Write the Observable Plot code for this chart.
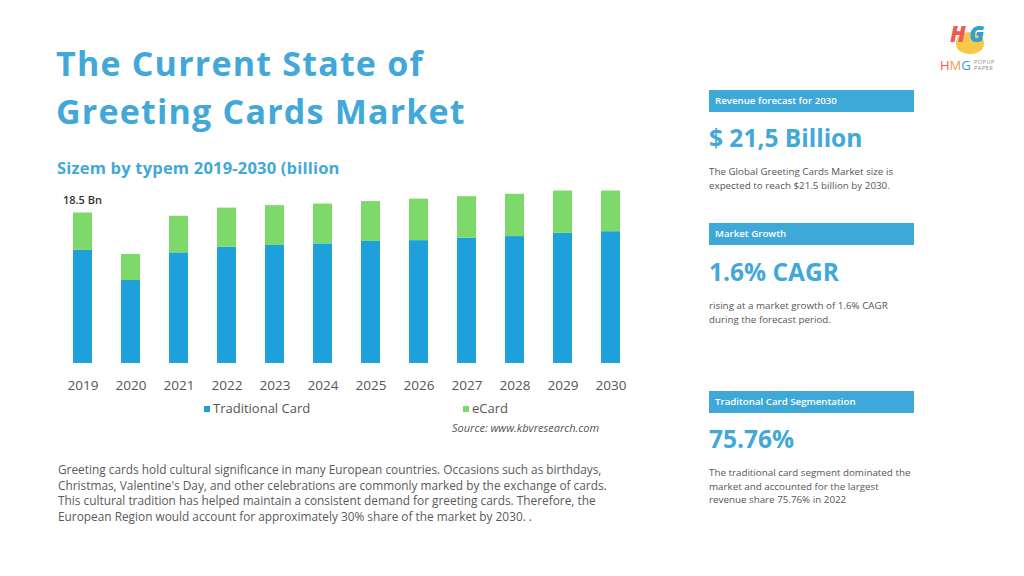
<!DOCTYPE html>
<html><head><meta charset="utf-8">
<script src="https://cdn.jsdelivr.net/npm/d3@7"></script>
<script src="https://cdn.jsdelivr.net/npm/@observablehq/plot@0.6"></script>
<style>
body{margin:0;width:1024px;height:576px;background:#fff;position:relative;overflow:hidden;font-family:"Open Sans",sans-serif;}
.abs{position:absolute;white-space:nowrap;}
.title{left:56px;top:39px;font-size:34px;line-height:48px;font-weight:700;color:#42a8d9;letter-spacing:1.2px;}
.sub{left:57px;top:157px;font-size:16.5px;line-height:22px;font-weight:700;color:#42a8d9;letter-spacing:0.2px;}
.para{left:58px;top:462px;font-size:11.85px;line-height:15.5px;color:#5a5a5a;font-weight:400;}
.box{left:709px;width:205px;height:22px;background:#3ea8d8;color:#fff;font-size:9.7px;font-weight:600;line-height:22px;padding-left:6px;box-sizing:border-box;}
.big{left:709px;font-weight:700;color:#42a8d9;font-size:24.5px;line-height:30px;}
.desc{left:709px;font-size:9.8px;line-height:13.5px;color:#555;}
#chart{position:absolute;left:40px;top:180px;}
.leg{position:absolute;top:400px;font-size:13px;color:#555;line-height:16px;}
.leg span.sw{display:inline-block;width:6px;height:6px;margin-right:3px;vertical-align:1px;}
.src{left:452px;top:420px;font-size:11px;font-style:italic;color:#555;}
</style></head><body>
<div class="abs title">The Current State of<br>Greeting Cards Market</div>
<div class="abs sub">Sizem by typem 2019-2030 (billion</div>
<div id="chart"></div>
<div id="legend"></div>
<div class="abs src">Source: www.kbvresearch.com</div>
<div class="abs para">Greeting cards hold cultural significance in many European countries. Occasions such as birthdays,<br>Christmas, Valentine's Day, and other celebrations are commonly marked by the exchange of cards.<br>This cultural tradition has helped maintain a consistent demand for greeting cards. Therefore, the<br>European Region would account for approximately 30% share of the market by 2030. .</div>

<div class="abs box" style="top:90px">Revenue forecast for 2030</div>
<div class="abs big" style="top:123px">$ 21,5 Billion</div>
<div class="abs desc" style="top:165px">The Global Greeting Cards Market size is<br>expected to reach $21.5 billion by 2030.</div>

<div class="abs box" style="top:223px">Market Growth</div>
<div class="abs big" style="top:257px">1.6% CAGR</div>
<div class="abs desc" style="top:299px">rising at a market growth of 1.6% CAGR<br>during the forecast period.</div>

<div class="abs box" style="top:391px">Traditonal Card Segmentation</div>
<div class="abs big" style="top:424px">75.76%</div>
<div class="abs desc" style="top:466px">The traditional card segment dominated the<br>market and accounted for the largest<br>revenue share 75.76% in 2022</div>

<div class="abs" style="left:950px;top:18px;width:40px;height:38px;">
  <div class="abs" style="left:6px;top:14px;width:28px;height:22px;border-radius:50% 50% 45% 45%;background:#f7c948;"></div>
  <div class="abs" style="left:0px;top:2px;font-size:22px;font-weight:800;font-style:italic;color:#ef5b52;line-height:26px;">H</div>
  <div class="abs" style="left:19px;top:2px;font-size:22px;font-weight:800;font-style:italic;color:#2f9fd8;line-height:26px;">G</div>
</div>
<div class="abs" style="left:940px;top:58px;font-size:13px;line-height:14px;font-weight:400;"><span style="color:#ef5b52">H</span><span style="color:#f39c3c">M</span><span style="color:#2f9fd8">G</span></div>
<div class="abs" style="left:974px;top:59px;font-size:5.5px;line-height:6px;color:#888;letter-spacing:0.5px;">POPUP<br>PAPER</div>

<script>
const years = ["2019","2020","2021","2022","2023","2024","2025","2026","2027","2028","2029","2030"];
const traditional = [13.9,10.2,13.6,14.3,14.5,14.7,15.0,15.1,15.4,15.6,16.0,16.2];
const ecard = [4.6,3.2,4.5,4.8,4.9,4.9,4.9,5.1,5.1,5.2,5.2,5.0];
const seriesNames = ["Traditional Card","eCard"];
const seriesColors = ["#1ea0da","#7ed96b"];
const labelYears = ["2019"];
const labelTexts = ["18.5 Bn"];

const data = years.flatMap((y,i)=>[
  {year:y,type:seriesNames[0],value:traditional[i]},
  {year:y,type:seriesNames[1],value:ecard[i]}
]);
const labels = labelYears.map((y,i)=>{
  const k = years.indexOf(y);
  return {year:y,text:labelTexts[i],total:traditional[k]+ecard[k]};
});

const chart = Plot.plot({
  width:610,height:213,marginLeft:15,marginRight:11,marginTop:4,marginBottom:30,
  style:{fontFamily:"Open Sans",background:"transparent",color:"#555"},
  x:{domain:years,paddingInner:0.6,paddingOuter:0.3,axis:null},
  y:{domain:[0,22],axis:null},
  color:{domain:seriesNames,range:seriesColors},
  marks:[
    Plot.barY(data,{x:"year",y:"value",fill:"type"}),
    Plot.axisX({tickSize:0,tickPadding:17,fontSize:13.5,label:null}),
    Plot.text(labels,{x:"year",y:"total",text:"text",dx:-20,dy:-13,textAnchor:"start",fontSize:11,fontWeight:600,fill:"#333"})
  ]
});
document.getElementById("chart").appendChild(chart);

const legendLefts = [204,463];
const leg = document.getElementById("legend");
seriesNames.forEach((n,i)=>{
  const d = document.createElement("div");
  d.className="leg";
  d.style.left = legendLefts[i]+"px";
  d.innerHTML = `<span class="sw" style="background:${seriesColors[i]}"></span>${n}`;
  leg.appendChild(d);
});
</script>
</body></html>
